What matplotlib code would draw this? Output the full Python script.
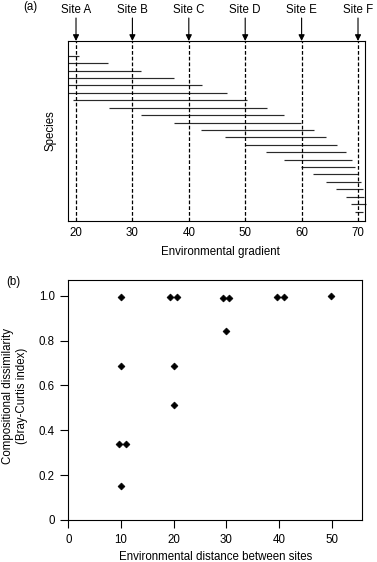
import matplotlib
matplotlib.use("Agg")
import matplotlib.pyplot as plt

plt.rcParams['font.family'] = ['Liberation Sans', 'DejaVu Sans']
plt.rcParams['font.size'] = 8.3

# ---- Panel (a) data ----
sites = ["Site A", "Site B", "Site C", "Site D", "Site E", "Site F"]
site_pos = [20, 30, 40, 50, 60, 70]
species_start = [18.6, 18.6, 18.6, 18.6, 18.6, 18.6, 19.5, 25.9, 31.5, 37.3, 42.2,
                 46.5, 50.0, 53.6, 56.8, 59.9, 62.1, 64.4, 66.1, 67.8, 68.8, 69.5]
species_end = [20.6, 25.6, 31.6, 37.3, 42.3, 46.7, 50.3, 53.8, 56.9, 59.9, 62.2,
               64.3, 66.2, 67.8, 68.9, 69.5, 70.0, 70.5, 70.8, 71.1, 71.4, 70.9]
gradient_ticks = [20, 30, 40, 50, 60, 70]

# ---- Panel (b) data ----
env_distance = [10.0, 10.0, 9.6, 10.9, 10.0,
                19.3, 20.6, 20.1, 20.1,
                29.4, 30.6, 29.9,
                39.7, 40.9,
                49.8]
dissimilarity = [0.995, 0.688, 0.339, 0.339, 0.153,
                 0.995, 0.995, 0.688, 0.513,
                 0.991, 0.991, 0.843,
                 0.993, 0.993,
                 0.999]
dist_ticks = [0, 10, 20, 30, 40, 50]
dis_ticks = [0, 0.2, 0.4, 0.6, 0.8, 1.0]
dis_labels = ["0", "0.2", "0.4", "0.6", "0.8", "1.0"]

W, H = 377, 562
fig = plt.figure(figsize=(W / 100, H / 100), dpi=100)

def fx(px):
    return px / W

def fy(py):
    return 1 - py / H

# ---------------- Panel (a) ----------------
axa = fig.add_axes([fx(68), fy(220.5), fx(365 - 68), (220.5 - 41) / H])
for sp in axa.spines.values():
    sp.set_linewidth(0.8)
axa.set_xlim(18.58, 71.24)
n = len(species_start)
axa.set_ylim(n + 1.2, -0.98)
for i, (s, e) in enumerate(zip(species_start, species_end)):
    axa.plot([s, e], [i + 1, i + 1], color="#2a2a2a", lw=0.85, clip_on=False,
             solid_capstyle="butt")
for x in site_pos:
    axa.axvline(x, color="black", lw=0.9, linestyle=(0, (3, 1.6)))
axa.set_xticks(gradient_ticks)
axa.set_xticklabels([str(t) for t in gradient_ticks])
axa.tick_params(axis="x", length=0, pad=5)
axa.set_yticks([])
for name, x in zip(sites, site_pos):
    axa.annotate("", xy=(x, 1.0), xycoords=("data", "axes fraction"),
                 xytext=(x, 1.128), textcoords=("data", "axes fraction"),
                 arrowprops=dict(arrowstyle="-|>", color="black", lw=0.8,
                                 mutation_scale=9, shrinkA=0, shrinkB=0),
                 annotation_clip=False)
    axa.text(x, 1.175, name, transform=axa.get_xaxis_transform(),
             ha="center", va="center")
fig.text(fx(30.5), fy(7), "(a)", ha="center", va="center")
fig.text(fx(220.5), fy(251.7), "Environmental gradient", ha="center", va="center")
fig.text(fx(50), fy(131), "Species", ha="center", va="center", rotation=90)

# ---------------- Panel (b) ----------------
axb = fig.add_axes([fx(68.3), fy(520), fx(361.7 - 68.3), (520 - 280) / H])
for sp in axb.spines.values():
    sp.set_linewidth(0.8)
axb.set_xlim(0, 55.7)
axb.set_ylim(0, 1.07)
axb.plot(env_distance, dissimilarity, linestyle="none", marker="D",
         markersize=3.5, color="black", markeredgewidth=0.5, clip_on=False)
axb.set_xticks(dist_ticks)
axb.set_xticklabels([str(t) for t in dist_ticks])
axb.set_yticks(dis_ticks)
axb.set_yticklabels(dis_labels)
axb.tick_params(length=5.5, width=0.8, pad=4.3)
fig.text(fx(13.5), fy(282), "(b)", ha="center", va="center")
fig.text(fx(215.5), fy(556.5), "Environmental distance between sites",
         ha="center", va="center")
fig.text(fx(15), fy(396), "Compositional dissimilarity\n(Bray-Curtis index)",
         ha="center", va="center", rotation=90, linespacing=1.25)

fig.savefig("out.png", dpi=100)
